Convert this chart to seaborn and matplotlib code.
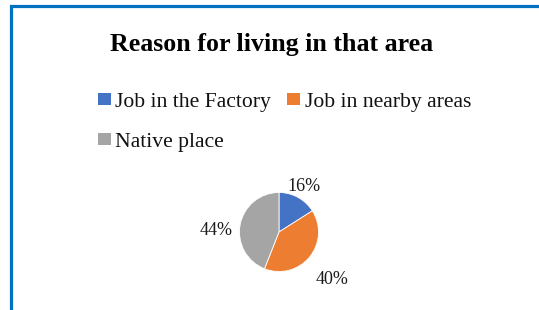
import numpy as np
import matplotlib
matplotlib.use("Agg")
import matplotlib.pyplot as plt
from matplotlib.patches import Patch
from matplotlib.lines import Line2D
import seaborn as sns

# --- data ---
categories = ["Job in the Factory", "Job in nearby areas", "Native place"]
shares = [16, 40, 44]
colors = ["#4472C4", "#ED7D31", "#A5A5A5"]
label_dist = [1.31, 1.81, 1.6]   # radial position of each % label (Excel best fit)
label_nudge = [0, -2, 9]         # small angular nudge, degrees

sns.set_theme(style="white")
plt.rcParams["font.family"] = ["Liberation Serif", "DejaVu Serif"]

W, H = 539, 310
fig = plt.figure(figsize=(W / 100, H / 100), dpi=100)

# pie axes: 200x200 px box, centre at (279, 232) px, radius ~39.5 px
cx, cy = 279, 232
ax = fig.add_axes([(cx - 100) / W, (H - cy - 100) / H, 200 / W, 200 / H])
wedges, _ = ax.pie(shares, colors=colors, startangle=90, counterclock=False,
                   radius=1, wedgeprops={"linewidth": 0.6, "edgecolor": "white"})
ax.set_xlim(-2.53, 2.53)
ax.set_ylim(-2.53, 2.53)
ax.axis("off")

for w, val, d, nd in zip(wedges, shares, label_dist, label_nudge):
    ang = np.deg2rad((w.theta1 + w.theta2) / 2 + nd)
    ax.text(d * np.cos(ang), d * np.sin(ang), f"{val}%", ha="center", va="center",
            fontsize=13, color="#1a1a1a", clip_on=False)

fig.text(272 / W, 1 - 45 / H, "Reason for living in that area", ha="center", va="center",
         fontsize=18.6, fontweight="bold", color="black")

handles = [Patch(facecolor=c, edgecolor="none") for c in colors]
order = [0, 2, 1]   # legend fills column-wise, so reorder to get rows
fig.legend([handles[i] for i in order], [categories[i] for i in order],
           ncol=2, loc="upper left", bbox_to_anchor=(98 / W, 1 - 93 / H),
           frameon=False, fontsize=15.6, handlelength=0.6, handleheight=0.5,
           handletextpad=0.2, columnspacing=0.75, labelspacing=0.95,
           borderpad=0, borderaxespad=0, labelcolor="#111111")

# blue frame (left and top edges visible)
fig.add_artist(Line2D([11 / W, 11 / W, 1.0], [0, 1 - 6 / H, 1 - 6 / H],
                      transform=fig.transFigure, color="#0070C0", linewidth=2.3,
                      solid_joinstyle="miter"))

fig.savefig("out.png", dpi=100)
